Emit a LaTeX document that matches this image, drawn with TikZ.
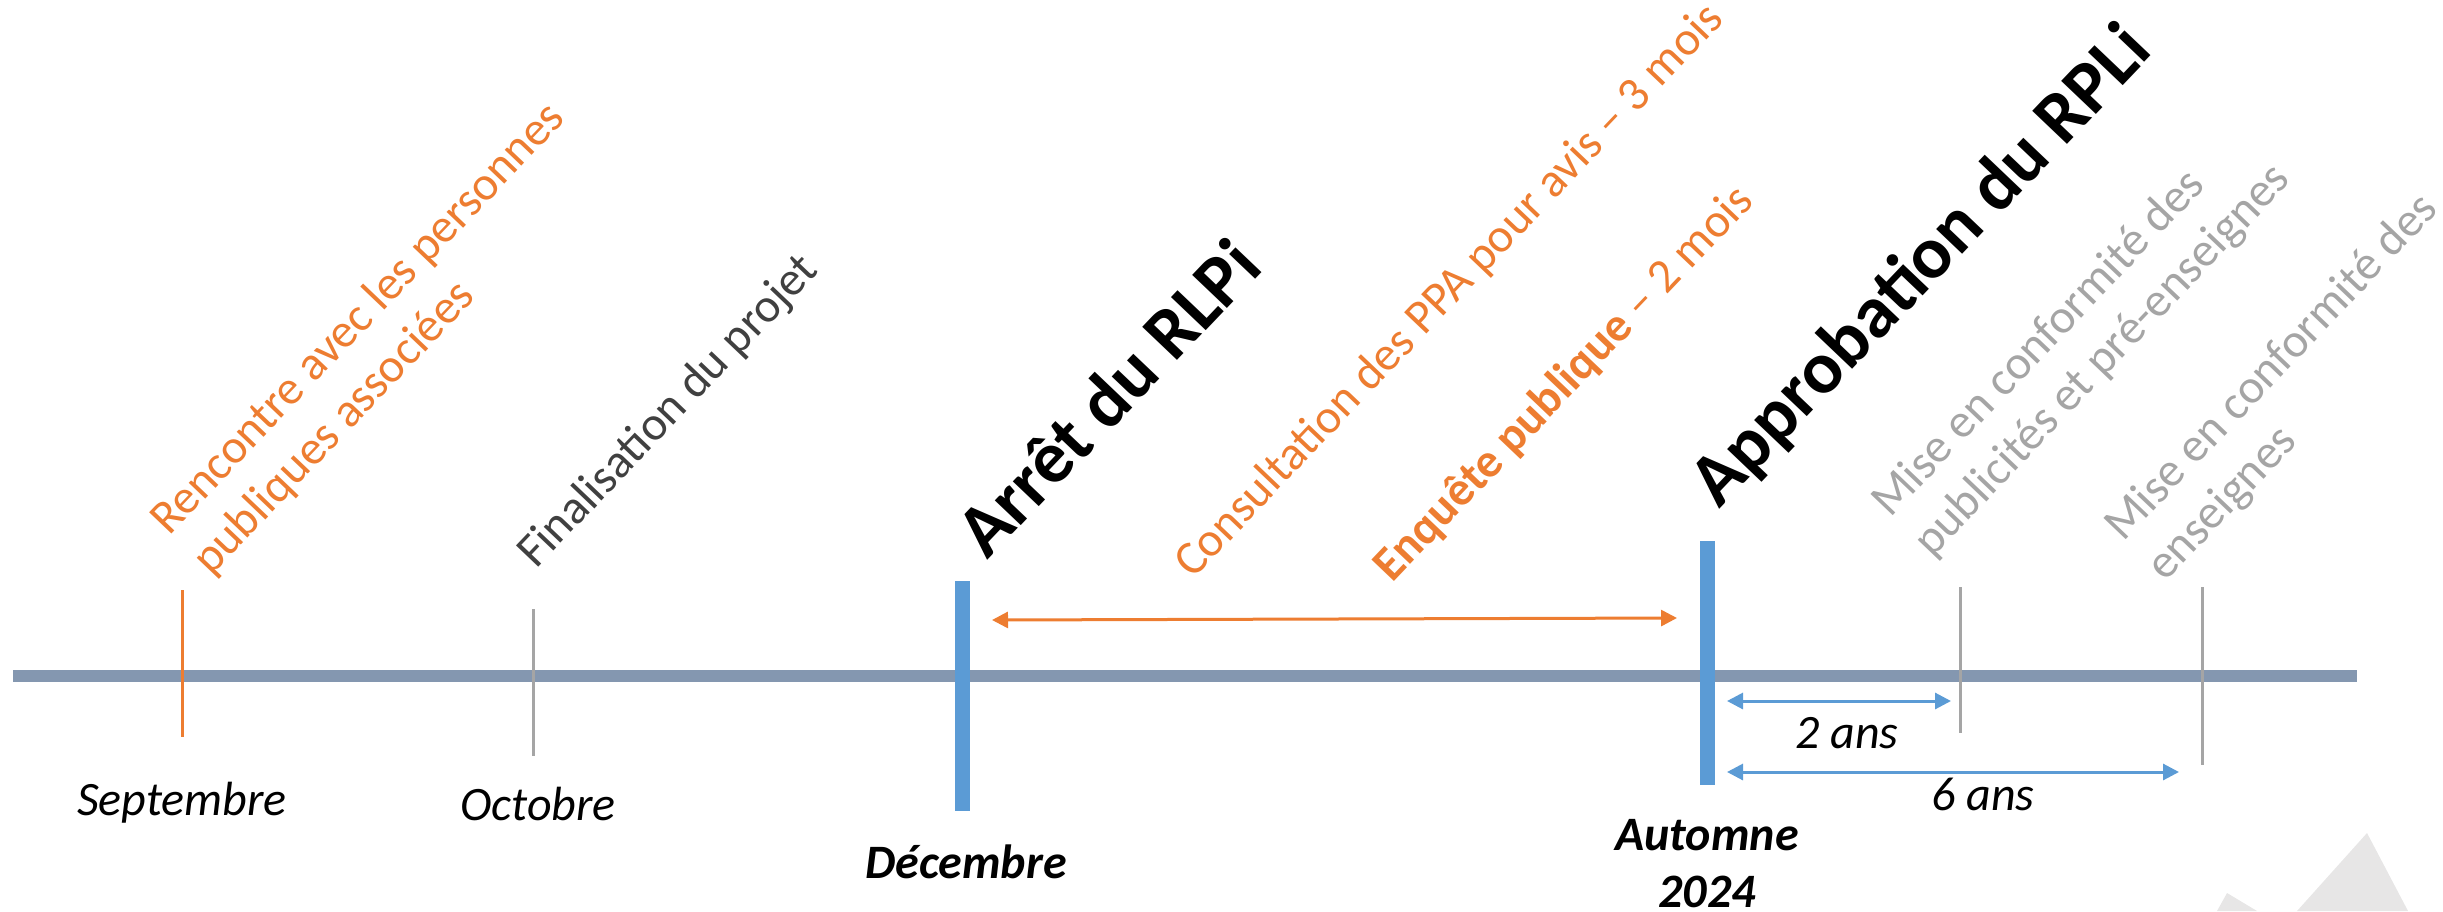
\documentclass[tikz,border=0pt]{standalone}
\usepackage{fontspec}
\setmainfont{Carlito}
\usetikzlibrary{arrows.meta}
\definecolor{orng}{HTML}{ED7D31}
\definecolor{bluebar}{HTML}{5B9BD5}
\definecolor{axisc}{HTML}{8497B0}
\definecolor{grayc}{HTML}{A5A5A5}
\definecolor{dgray}{HTML}{404040}
\definecolor{trig}{HTML}{E7E6E6}
\newcommand\txtsm{\fontsize{48}{58.6}\selectfont}
\newcommand\txtbig{\fontsize{74}{90}\selectfont\bfseries}
\begin{document}
\begin{tikzpicture}[x=1pt,y=-1pt,
  lbl/.style={inner sep=0pt, anchor=base west, rotate=46.4, font=\txtsm},
  ttl/.style={inner sep=0pt, anchor=base west, rotate=46.4, font=\txtbig, text=black},
  datelbl/.style={inner sep=0pt, anchor=base, font=\txtsm\itshape},
  datebold/.style={inner sep=0pt, anchor=base, font=\txtsm\bfseries\itshape},
  axisline/.style={draw=axisc, line width=12pt},
  thintick/.style={line width=3pt},
  bigbar/.style={draw=bluebar, line width=15pt},
  durarrow/.style={line width=3pt, {Triangle[length=16pt,width=16pt]}-{Triangle[length=16pt,width=16pt]}},
  deco/.style={fill=trig, draw=none}
]
\useasboundingbox (0,0) rectangle (2443,911);

% decorative triangles
\fill[deco] (2367,833) -- (2408,911) -- (2297,911) -- cycle;
\fill[deco] (2227,893) -- (2257,911) -- (2217,911) -- cycle;

% axis
\coordinate (axL) at (13,676);
\coordinate (axR) at (2357,676);
\draw[axisline] (axL) -- (axR);

% ticks
\coordinate (sepT) at (182,590); \coordinate (sepB) at (182,737);
\draw[thintick, orng] (sepT) -- (sepB);
\coordinate (octT) at (533,609); \coordinate (octB) at (533,756);
\draw[thintick, grayc] (octT) -- (octB);
\coordinate (pubT) at (1960,587); \coordinate (pubB) at (1960,733);
\draw[thintick, grayc] (pubT) -- (pubB);
\coordinate (ensT) at (2202,587); \coordinate (ensB) at (2202,765);
\draw[thintick, grayc] (ensT) -- (ensB);

% big bars
\coordinate (decT) at (962,581); \coordinate (decB) at (962,811);
\draw[bigbar] (decT) -- (decB);
\coordinate (appT) at (1707,541); \coordinate (appB) at (1707,785);
\draw[bigbar] (appT) -- (appB);

% duration arrows
\coordinate (consL) at (992,620); \coordinate (consR) at (1677,618);
\draw[durarrow, orng] (consL) -- (consR);
\coordinate (a2L) at (1727,701); \coordinate (a2R) at (1951,701);
\draw[durarrow, bluebar] (a2L) -- (a2R);
\coordinate (a6L) at (1727,772); \coordinate (a6R) at (2179,772);
\draw[durarrow, bluebar] (a6L) -- (a6R);

% rotated labels
\node[lbl, text=orng] (ren1) at (169,537) {Rencontre avec les personnes};
\node[lbl, text=orng] (ren2) at (211,577) {publiques associées};
\node[lbl, text=dgray] (fin) at (536,570) {Finalisation du projet};
\node[ttl] (arr) at (987,561) {Arrêt du RLPi};
\node[lbl, text=orng] (cons) at (1193,580) {Consultation des PPA pour avis – 3 mois};
\node[lbl, text=orng] (enq) at (1392,584) {\bfseries Enquête publique\mdseries{} – 2 mois};
\node[ttl] (app) at (1719,510) {Approbation du RPLi};
\node[lbl, text=grayc] (mis1a) at (1890,519) {Mise en conformité des};
\node[lbl, text=grayc] (mis1b) at (1932,559) {publicités et pré-enseignes};
\node[lbl, text=grayc] (mis2a) at (2123,543) {Mise en conformité des};
\node[lbl, text=grayc] (mis2b) at (2165,583) {enseignes};

% date labels
\node[datelbl] (sep) at (182,815) {Septembre};
\node[datelbl] (oct) at (538,820) {Octobre};
\node[datebold] (dec) at (966,878) {Décembre};
\node[datebold] (aut1) at (1707,850) {Automne};
\node[datebold] (aut2) at (1707,907) {2024};
\node[datelbl] (ans2) at (1847,748) {2 ans};
\node[datelbl] (ans6) at (1983,810) {6 ans};
\end{tikzpicture}
\end{document}
